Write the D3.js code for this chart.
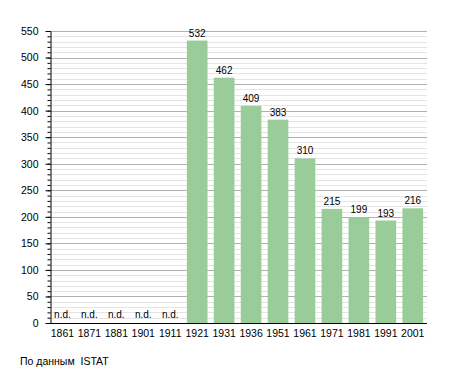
<!DOCTYPE html>
<html>
<head>
<meta charset="utf-8">
<script src="https://cdn.jsdelivr.net/npm/d3@7"></script>
<style>
  body { margin: 0; background: #fff; }
  svg { display: block; font-family: "Liberation Sans", Arial, sans-serif; }
</style>
</head>
<body>
<div id="chart"></div>
<script>
// Census years and population (null = no data)
const years = ["1861", "1871", "1881", "1901", "1911", "1921", "1931", "1936", "1951", "1961", "1971", "1981", "1991", "2001"];
const population = [null, null, null, null, null, 532, 462, 409, 383, 310, 215, 199, 193, 216];
const yMax = 550;
const sourceNote = "По данным  ISTAT";

const width = 455, height = 373;

const svg = d3.select("#chart")
  .append("svg")
  .attr("width", width)
  .attr("height", height);

// Scales
const x = d3.scaleBand()
  .domain(years)
  .range([45.8, 429.4])
  .padding(0.234);

const y = d3.scaleLinear()
  .domain([0, yMax])
  .range([323, 31]);

const axisLeftX = 50, axisRightX = 427;

// Minor gridlines every 10
svg.append("g")
  .selectAll("line")
  .data(d3.range(10, yMax + 1, 10).filter((v) => v % 50 !== 0))
  .enter()
  .append("line")
  .attr("x1", axisLeftX)
  .attr("x2", axisRightX)
  .attr("y1", (d) => Math.round(y(d)) + 0.5)
  .attr("y2", (d) => Math.round(y(d)) + 0.5)
  .attr("stroke", "#e4e4e4")
  .attr("stroke-width", 1);

// Major gridlines every 50
svg.append("g")
  .selectAll("line")
  .data(d3.range(50, yMax + 1, 50))
  .enter()
  .append("line")
  .attr("x1", axisLeftX)
  .attr("x2", axisRightX)
  .attr("y1", (d) => Math.round(y(d)) + 0.5)
  .attr("y2", (d) => Math.round(y(d)) + 0.5)
  .attr("stroke", "#b0b0b0")
  .attr("stroke-width", 1);

// Bars
const rows = years.map((yr, i) => ({ year: yr, value: population[i] }));

svg.append("g")
  .selectAll("rect")
  .data(rows.filter((d) => d.value !== null))
  .enter()
  .append("rect")
  .attr("x", (d) => x(d.year))
  .attr("y", (d) => y(d.value))
  .attr("width", x.bandwidth())
  .attr("height", (d) => y(0) - y(d.value))
  .attr("fill", "#99cc99");

// Value labels
svg.append("g")
  .selectAll("text")
  .data(rows)
  .enter()
  .append("text")
  .attr("x", (d) => x(d.year) + x.bandwidth() / 2)
  .attr("y", (d) => (d.value === null ? y(0) - 5 : y(d.value) - 4))
  .attr("text-anchor", "middle")
  .style("font-size", "10px")
  .attr("fill", "#000")
  .text((d) => (d.value === null ? "n.d." : d.value));

// Y axis: minor ticks every 10
svg.append("g")
  .attr("transform", `translate(${axisLeftX + 0.5},0)`)
  .call(d3.axisLeft(y).tickValues(d3.range(0, yMax + 1, 10)).tickSize(3).tickFormat(""))
  .call((g) => g.select(".domain").remove());

// Y axis: major ticks every 50 with labels
svg.append("g")
  .attr("transform", `translate(${axisLeftX + 0.5},0)`)
  .call(d3.axisLeft(y).tickValues(d3.range(0, yMax + 1, 50)).tickSize(5).tickSizeOuter(0).tickPadding(7))
  .call((g) => g.selectAll("text").style("font-size", "10.5px").attr("fill", "#000"))
  .call((g) => g.selectAll("line, path").attr("stroke", "#000"));

// X axis baseline
svg.append("line")
  .attr("x1", axisLeftX)
  .attr("x2", axisRightX)
  .attr("y1", y(0) + 0.5)
  .attr("y2", y(0) + 0.5)
  .attr("stroke", "#000")
  .attr("stroke-width", 1);

// X axis labels
svg.append("g")
  .attr("transform", `translate(0,${y(0)})`)
  .call(d3.axisBottom(x).tickSize(0).tickPadding(7))
  .call((g) => g.select(".domain").remove())
  .call((g) => g.selectAll("text").style("font-size", "10.5px").attr("fill", "#000"));

// Source note
svg.append("text")
  .attr("x", 20)
  .attr("y", 365)
  .style("font-size", "10.5px")
  .attr("fill", "#000")
  .style("white-space", "pre")
  .text(sourceNote);
</script>
</body>
</html>
